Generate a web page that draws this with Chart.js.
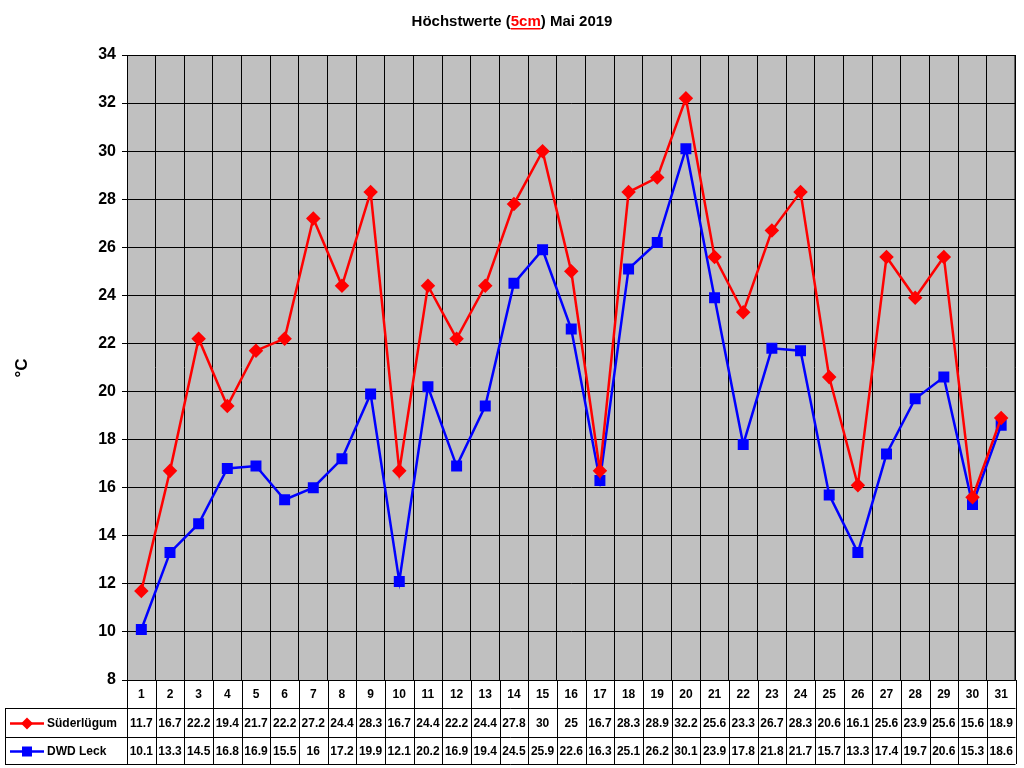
<!DOCTYPE html>
<html><head><meta charset="utf-8">
<script src="https://cdn.jsdelivr.net/npm/chart.js@4/dist/chart.umd.min.js"></script>
<style>html,body{margin:0;padding:0;background:#fff}#w{width:1024px;height:768px}</style>
</head><body><div id="w"><canvas id="c"></canvas></div>
<script>
const days = Array.from({length:31},(_,i)=>String(i+1));
const suederluegum = [11.7,16.7,22.2,19.4,21.7,22.2,27.2,24.4,28.3,16.7,24.4,22.2,24.4,27.8,30,25,16.7,28.3,28.9,32.2,25.6,23.3,26.7,28.3,20.6,16.1,25.6,23.9,25.6,15.6,18.9];
const dwdLeck = [10.1,13.3,14.5,16.8,16.9,15.5,16,17.2,19.9,12.1,20.2,16.9,19.4,24.5,25.9,22.6,16.3,25.1,26.2,30.1,23.9,17.8,21.8,21.7,15.7,13.3,17.4,19.7,20.6,15.3,18.6];
const seriesNames = ['Süderlügum','DWD Leck'];
const FONT = '"Liberation Sans", Arial, sans-serif';

const bgPlugin = {
  id:'bg',
  beforeDraw(ch){
    const {ctx, chartArea:a} = ch;
    ctx.save(); ctx.fillStyle='#c0c0c0'; ctx.fillRect(a.left,a.top,a.right-a.left,a.bottom-a.top); ctx.restore();
  },
  afterDraw(ch){
    const {ctx, chartArea:a} = ch;
    const x = ch.scales.x;
    ctx.save();
    ctx.strokeStyle='#000'; ctx.lineWidth=1;
    ctx.strokeRect(a.left+0.5,a.top+0.5,a.right-a.left-1,a.bottom-a.top);
    // title
    ctx.font='bold 15px '+FONT; ctx.textBaseline='alphabetic';
    const p1='Höchstwerte (', p2='5cm', p3=') Mai 2019';
    const w1=ctx.measureText(p1).width,w2=ctx.measureText(p2).width,w3=ctx.measureText(p3).width;
    let tx=512-(w1+w2+w3)/2, ty=26;
    ctx.fillStyle='#000'; ctx.fillText(p1,tx,ty);
    ctx.fillStyle='#ff0000'; ctx.fillText(p2,tx+w1,ty);
    ctx.fillRect(tx+w1,ty+2,w2,1.5);
    ctx.fillStyle='#000'; ctx.fillText(p3,tx+w1+w2,ty);
    // y title
    ctx.save(); ctx.translate(27,368); ctx.rotate(-Math.PI/2);
    ctx.font='bold 17px '+FONT; ctx.textAlign='center'; ctx.fillText('°C',0,0); ctx.restore();
    // table
    const rows=[a.bottom,708,737,764];
    const L=5;
    ctx.beginPath();
    ctx.moveTo(a.left,rows[0]+0.5);ctx.lineTo(a.right,rows[0]+0.5);
    for(let r=1;r<4;r++){ctx.moveTo(L,rows[r]+0.5);ctx.lineTo(a.right,rows[r]+0.5);}
    ctx.moveTo(L+0.5,rows[1]);ctx.lineTo(L+0.5,rows[3]);
    const cw=(a.right-a.left)/days.length;
    for(let i=0;i<=days.length;i++){const xx=Math.round(a.left+i*cw)+0.5;ctx.moveTo(xx,rows[0]);ctx.lineTo(xx,rows[3]);}
    ctx.stroke();
    ctx.font='bold 12px '+FONT; ctx.textAlign='center'; ctx.textBaseline='middle';
    const data=[suederluegum,dwdLeck];
    days.forEach((d,i)=>{
      const cx=x.getPixelForValue(i);
      ctx.fillText(d,cx,(rows[0]+rows[1])/2+1);
      ctx.fillText(String(data[0][i]),cx,(rows[1]+rows[2])/2+1);
      ctx.fillText(String(data[1][i]),cx,(rows[2]+rows[3])/2+1);
    });
    const cols=['#ff0000','#0000ff'];
    for(let s=0;s<2;s++){
      const cy=(rows[s+1]+rows[s+2])/2+1;
      ctx.strokeStyle=cols[s]; ctx.lineWidth=2.5;
      ctx.beginPath();ctx.moveTo(10,cy);ctx.lineTo(44,cy);ctx.stroke();
      ctx.fillStyle=cols[s];
      if(s===0){ctx.beginPath();ctx.moveTo(27,cy-6);ctx.lineTo(33,cy);ctx.lineTo(27,cy+6);ctx.lineTo(21,cy);ctx.fill();}
      else ctx.fillRect(22,cy-5,10,10);
      ctx.fillStyle='#000'; ctx.textAlign='left';
      ctx.fillText(seriesNames[s],47,cy);
    }
    ctx.restore();
  }
};

new Chart(document.getElementById('c'),{
  type:'line',
  data:{labels:days,datasets:[
    {label:seriesNames[0],data:suederluegum,borderColor:'#ff0000',backgroundColor:'#ff0000',borderWidth:2.5,pointStyle:'rectRot',pointRadius:5.5,pointHoverRadius:5.5,tension:0},
    {label:seriesNames[1],data:dwdLeck,borderColor:'#0000ff',backgroundColor:'#0000ff',borderWidth:2.5,pointStyle:'rect',pointRadius:6,pointHoverRadius:6,tension:0}
  ]},
  options:{
    responsive:true,maintainAspectRatio:false,animation:false,
    layout:{padding:{left:82,top:55,right:6,bottom:88}},
    plugins:{legend:{display:false},tooltip:{enabled:false}},
    scales:{
      x:{offset:true,grid:{offset:true,color:'#000',drawTicks:false},border:{display:false},ticks:{display:false},afterFit(s){s.height=0;}},
      y:{min:8,max:34,ticks:{stepSize:2,color:'#000',font:{family:FONT,size:16,weight:'bold'},padding:6},
         grid:{color:'#000',drawTicks:true,tickLength:5},border:{color:'#000'},afterFit(s){s.width=45;}}
    }
  },
  plugins:[bgPlugin]
});
</script></body></html>
